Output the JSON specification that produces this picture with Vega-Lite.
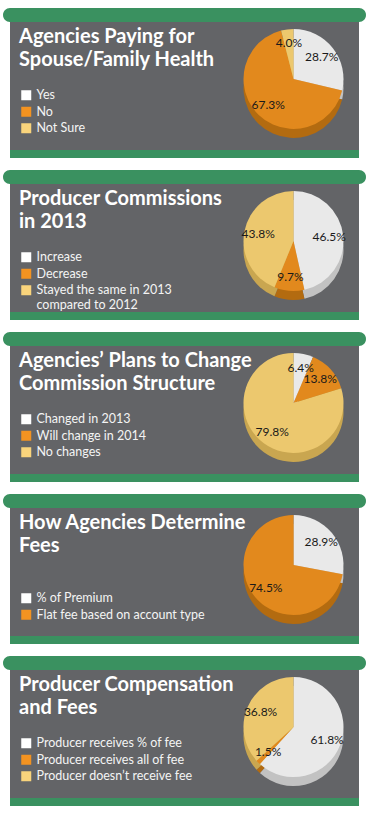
{
  "$schema": "https://vega.github.io/schema/vega-lite/v6.json",
  "background": "#ffffff",
  "padding": {"left": 3, "top": 8, "right": 0, "bottom": 0},
  "spacing": 12,
  "resolve": {"scale": {"color": "independent", "fill": "independent", "theta": "independent"}, "legend": {"color": "independent"}},
  "config": {
    "view": {"stroke": null},
    "legend": {"labelFont": "Lato", "labelFontSize": 12.5, "labelColor": "#f4f4f4", "symbolType": "square", "symbolSize": 100, "symbolStrokeWidth": 0, "symbolOffset": 1, "rowPadding": 3.5, "labelOffset": 4, "labelLimit": 280, "padding": 0, "titleFont": "Lato", "titleFontSize": 20, "titleFontWeight": "bold", "titleColor": "#ffffff", "titleLineHeight": 23, "titleLimit": 400, "titleBaseline": "top", "titlePadding": 19, "orient": "none", "legendX": -209, "legendY": 5},
    "text": {"font": "Lato"}
  },
  "vconcat": [
    {
      "spacing": 0, "center": true,
      "resolve": {"scale": {"color": "independent", "fill": "independent", "theta": "independent"}, "legend": {"color": "independent"}},
      "vconcat": [
        {"width": 363, "height": 14, "view": {"fill": "#3a9160", "cornerRadius": 7, "stroke": null}, "data": {"values": []}, "mark": "point"},
        {
          "spacing": 0, "bounds": "flush",
          "resolve": {"scale": {"color": "independent", "fill": "independent", "theta": "independent"}, "legend": {"color": "independent"}},
          "hconcat": [
            {"width": 218, "height": 128, "view": {"fill": "#636467", "stroke": null}, "data": {"values": []}, "mark": "point"},
            {
              "width": 131, "height": 128,
              "view": {"fill": "#636467", "stroke": null},
              "data": {"values": [
                {"category": "Yes", "value": 0.287, "idx": 1},
                {"category": "No", "value": 0.673, "idx": 2},
                {"category": "Not Sure", "value": 0.04, "idx": 3}
              ]},
              "encoding": {"theta": {"field": "value", "type": "quantitative", "stack": true}, "order": {"field": "idx"}},
              "resolve": {"scale": {"color": "independent"}, "legend": {"color": "independent"}},
              "layer": [
                {"mark": {"type": "arc", "radius": 50, "yOffset": 2}, "encoding": {"fill": {"field": "category", "type": "nominal", "scale": {"domain": ["Yes", "No", "Not Sure"], "range": ["#c2c2c2", "#b36b10", "#c9a650"]}, "legend": null}}},
                {"mark": {"type": "arc", "radius": 50, "yOffset": -7}, "encoding": {"color": {"field": "category", "type": "nominal", "scale": {"domain": ["Yes", "No", "Not Sure"], "range": ["#e9e9e9", "#e2891d", "#ecc86e"]}, "legend": null}}},
                {"mark": {"type": "text", "radius": 36, "yOffset": -7, "fontSize": 12, "color": "#1a1a1a"}, "encoding": {"text": {"field": "value", "type": "quantitative", "format": ".1%"}}},
                {"mark": {"type": "text"}, "encoding": {"text": {"value": ""}, "color": {"field": "category", "type": "nominal", "scale": {"domain": ["Yes", "No", "Not Sure"], "range": ["#ffffff", "#f39321", "#f9d47c"]}, "legend": {"title": ["Agencies Paying for", "Spouse/Family Health"]}}}}
              ]
            }
          ]
        },
        {"width": 349, "height": 8, "view": {"fill": "#3a9160", "stroke": null}, "data": {"values": []}, "mark": "point"}
      ]
    },
    {
      "spacing": 0, "center": true,
      "resolve": {"scale": {"color": "independent", "fill": "independent", "theta": "independent"}, "legend": {"color": "independent"}},
      "vconcat": [
        {"width": 363, "height": 14, "view": {"fill": "#3a9160", "cornerRadius": 7, "stroke": null}, "data": {"values": []}, "mark": "point"},
        {
          "spacing": 0, "bounds": "flush",
          "resolve": {"scale": {"color": "independent", "fill": "independent", "theta": "independent"}, "legend": {"color": "independent"}},
          "hconcat": [
            {"width": 218, "height": 128, "view": {"fill": "#636467", "stroke": null}, "data": {"values": []}, "mark": "point"},
            {
              "width": 131, "height": 128,
              "view": {"fill": "#636467", "stroke": null},
              "data": {"values": [
                {"category": "Increase", "value": 0.465, "idx": 1},
                {"category": "Decrease", "value": 0.097, "idx": 2},
                {"category": "Stayed the same in 2013 compared to 2012", "value": 0.438, "idx": 3}
              ]},
              "encoding": {"theta": {"field": "value", "type": "quantitative", "stack": true}, "order": {"field": "idx"}},
              "resolve": {"scale": {"color": "independent"}, "legend": {"color": "independent"}},
              "layer": [
                {"mark": {"type": "arc", "radius": 50, "yOffset": 2}, "encoding": {"fill": {"field": "category", "type": "nominal", "scale": {"domain": ["Increase", "Decrease", "Stayed the same in 2013 compared to 2012"], "range": ["#c2c2c2", "#b36b10", "#c9a650"]}, "legend": null}}},
                {"mark": {"type": "arc", "radius": 50, "yOffset": -7}, "encoding": {"color": {"field": "category", "type": "nominal", "scale": {"domain": ["Increase", "Decrease", "Stayed the same in 2013 compared to 2012"], "range": ["#e9e9e9", "#e2891d", "#ecc86e"]}, "legend": null}}},
                {"mark": {"type": "text", "radius": 36, "yOffset": -7, "fontSize": 12, "color": "#1a1a1a"}, "encoding": {"text": {"field": "value", "type": "quantitative", "format": ".1%"}}},
                {"mark": {"type": "text"}, "encoding": {"text": {"value": ""}, "color": {"field": "category", "type": "nominal", "scale": {"domain": ["Increase", "Decrease", "Stayed the same in 2013 compared to 2012"], "range": ["#ffffff", "#f39321", "#f9d47c"]}, "legend": {"title": ["Producer Commissions", "in 2013"], "labelExpr": "datum.label == 'Stayed the same in 2013 compared to 2012' ? ['Stayed the same in 2013', 'compared to 2012'] : datum.label"}}}}
              ]
            }
          ]
        },
        {"width": 349, "height": 8, "view": {"fill": "#3a9160", "stroke": null}, "data": {"values": []}, "mark": "point"}
      ]
    },
    {
      "spacing": 0, "center": true,
      "resolve": {"scale": {"color": "independent", "fill": "independent", "theta": "independent"}, "legend": {"color": "independent"}},
      "vconcat": [
        {"width": 363, "height": 14, "view": {"fill": "#3a9160", "cornerRadius": 7, "stroke": null}, "data": {"values": []}, "mark": "point"},
        {
          "spacing": 0, "bounds": "flush",
          "resolve": {"scale": {"color": "independent", "fill": "independent", "theta": "independent"}, "legend": {"color": "independent"}},
          "hconcat": [
            {"width": 218, "height": 128, "view": {"fill": "#636467", "stroke": null}, "data": {"values": []}, "mark": "point"},
            {
              "width": 131, "height": 128,
              "view": {"fill": "#636467", "stroke": null},
              "data": {"values": [
                {"category": "Changed in 2013", "value": 0.064, "idx": 1},
                {"category": "Will change in 2014", "value": 0.138, "idx": 2},
                {"category": "No changes", "value": 0.798, "idx": 3}
              ]},
              "encoding": {"theta": {"field": "value", "type": "quantitative", "stack": true}, "order": {"field": "idx"}},
              "resolve": {"scale": {"color": "independent"}, "legend": {"color": "independent"}},
              "layer": [
                {"mark": {"type": "arc", "radius": 50, "yOffset": 2}, "encoding": {"fill": {"field": "category", "type": "nominal", "scale": {"domain": ["Changed in 2013", "Will change in 2014", "No changes"], "range": ["#c2c2c2", "#b36b10", "#c9a650"]}, "legend": null}}},
                {"mark": {"type": "arc", "radius": 50, "yOffset": -7}, "encoding": {"color": {"field": "category", "type": "nominal", "scale": {"domain": ["Changed in 2013", "Will change in 2014", "No changes"], "range": ["#e9e9e9", "#e2891d", "#ecc86e"]}, "legend": null}}},
                {"mark": {"type": "text", "radius": 36, "yOffset": -7, "fontSize": 12, "color": "#1a1a1a"}, "encoding": {"text": {"field": "value", "type": "quantitative", "format": ".1%"}}},
                {"mark": {"type": "text"}, "encoding": {"text": {"value": ""}, "color": {"field": "category", "type": "nominal", "scale": {"domain": ["Changed in 2013", "Will change in 2014", "No changes"], "range": ["#ffffff", "#f39321", "#f9d47c"]}, "legend": {"title": ["Agencies’ Plans to Change", "Commission Structure"]}}}}
              ]
            }
          ]
        },
        {"width": 349, "height": 8, "view": {"fill": "#3a9160", "stroke": null}, "data": {"values": []}, "mark": "point"}
      ]
    },
    {
      "spacing": 0, "center": true,
      "resolve": {"scale": {"color": "independent", "fill": "independent", "theta": "independent"}, "legend": {"color": "independent"}},
      "vconcat": [
        {"width": 363, "height": 14, "view": {"fill": "#3a9160", "cornerRadius": 7, "stroke": null}, "data": {"values": []}, "mark": "point"},
        {
          "spacing": 0, "bounds": "flush",
          "resolve": {"scale": {"color": "independent", "fill": "independent", "theta": "independent"}, "legend": {"color": "independent"}},
          "hconcat": [
            {"width": 218, "height": 128, "view": {"fill": "#636467", "stroke": null}, "data": {"values": []}, "mark": "point"},
            {
              "width": 131, "height": 128,
              "view": {"fill": "#636467", "stroke": null},
              "data": {"values": [
                {"category": "% of Premium", "value": 0.289, "idx": 1},
                {"category": "Flat fee based on account type", "value": 0.745, "idx": 2}
              ]},
              "encoding": {"theta": {"field": "value", "type": "quantitative", "stack": true}, "order": {"field": "idx"}},
              "resolve": {"scale": {"color": "independent"}, "legend": {"color": "independent"}},
              "layer": [
                {"mark": {"type": "arc", "radius": 50, "yOffset": 2}, "encoding": {"fill": {"field": "category", "type": "nominal", "scale": {"domain": ["% of Premium", "Flat fee based on account type"], "range": ["#c2c2c2", "#b36b10"]}, "legend": null}}},
                {"mark": {"type": "arc", "radius": 50, "yOffset": -7}, "encoding": {"color": {"field": "category", "type": "nominal", "scale": {"domain": ["% of Premium", "Flat fee based on account type"], "range": ["#e9e9e9", "#e2891d"]}, "legend": null}}},
                {"mark": {"type": "text", "radius": 36, "yOffset": -7, "fontSize": 12, "color": "#1a1a1a"}, "encoding": {"text": {"field": "value", "type": "quantitative", "format": ".1%"}}},
                {"mark": {"type": "text"}, "encoding": {"text": {"value": ""}, "color": {"field": "category", "type": "nominal", "scale": {"domain": ["% of Premium", "Flat fee based on account type"], "range": ["#ffffff", "#f39321"]}, "legend": {"title": ["How Agencies Determine", "Fees"], "titlePadding": 36}}}}
              ]
            }
          ]
        },
        {"width": 349, "height": 8, "view": {"fill": "#3a9160", "stroke": null}, "data": {"values": []}, "mark": "point"}
      ]
    },
    {
      "spacing": 0, "center": true,
      "resolve": {"scale": {"color": "independent", "fill": "independent", "theta": "independent"}, "legend": {"color": "independent"}},
      "vconcat": [
        {"width": 363, "height": 14, "view": {"fill": "#3a9160", "cornerRadius": 7, "stroke": null}, "data": {"values": []}, "mark": "point"},
        {
          "spacing": 0, "bounds": "flush",
          "resolve": {"scale": {"color": "independent", "fill": "independent", "theta": "independent"}, "legend": {"color": "independent"}},
          "hconcat": [
            {"width": 218, "height": 128, "view": {"fill": "#636467", "stroke": null}, "data": {"values": []}, "mark": "point"},
            {
              "width": 131, "height": 128,
              "view": {"fill": "#636467", "stroke": null},
              "data": {"values": [
                {"category": "Producer receives % of fee", "value": 0.618, "idx": 1},
                {"category": "Producer receives all of fee", "value": 0.015, "idx": 2},
                {"category": "Producer doesn’t receive fee", "value": 0.368, "idx": 3}
              ]},
              "encoding": {"theta": {"field": "value", "type": "quantitative", "stack": true}, "order": {"field": "idx"}},
              "resolve": {"scale": {"color": "independent"}, "legend": {"color": "independent"}},
              "layer": [
                {"mark": {"type": "arc", "radius": 50, "yOffset": 2}, "encoding": {"fill": {"field": "category", "type": "nominal", "scale": {"domain": ["Producer receives % of fee", "Producer receives all of fee", "Producer doesn’t receive fee"], "range": ["#c2c2c2", "#b36b10", "#c9a650"]}, "legend": null}}},
                {"mark": {"type": "arc", "radius": 50, "yOffset": -7}, "encoding": {"color": {"field": "category", "type": "nominal", "scale": {"domain": ["Producer receives % of fee", "Producer receives all of fee", "Producer doesn’t receive fee"], "range": ["#e9e9e9", "#e2891d", "#ecc86e"]}, "legend": null}}},
                {"mark": {"type": "text", "radius": 36, "yOffset": -7, "fontSize": 12, "color": "#1a1a1a"}, "encoding": {"text": {"field": "value", "type": "quantitative", "format": ".1%"}}},
                {"mark": {"type": "text"}, "encoding": {"text": {"value": ""}, "color": {"field": "category", "type": "nominal", "scale": {"domain": ["Producer receives % of fee", "Producer receives all of fee", "Producer doesn’t receive fee"], "range": ["#ffffff", "#f39321", "#f9d47c"]}, "legend": {"title": ["Producer Compensation", "and Fees"]}}}}
              ]
            }
          ]
        },
        {"width": 349, "height": 8, "view": {"fill": "#3a9160", "stroke": null}, "data": {"values": []}, "mark": "point"}
      ]
    }
  ]
}
